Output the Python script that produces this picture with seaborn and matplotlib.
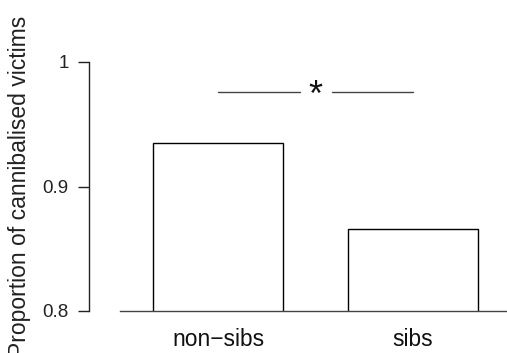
import matplotlib
matplotlib.use("Agg")
import matplotlib.pyplot as plt
import seaborn as sns
import pandas as pd

categories = ["non\u2212sibs", "sibs"]
proportions = [0.935, 0.866]
yticks = [0.8, 0.9, 1.0]
ytick_labels = ["0.8", "0.9", "1"]

sns.set_theme(style="white")
plt.rcParams["font.family"] = ["Liberation Sans", "DejaVu Sans"]

W, H = 507, 353
fig = plt.figure(figsize=(W / 100, H / 100), dpi=100)
# axes from x=120 to 507 px, y from 311 (0.8) up to 20 px
left, right, bottom, top = 120, 507, 311, 20
ax = fig.add_axes([left / W, 1 - bottom / H, (right - left) / W, (bottom - top) / H])

df = pd.DataFrame({"group": categories, "prop": proportions})
sns.barplot(data=df, x="group", y="prop", ax=ax, color="white",
            edgecolor="black", linewidth=1.0, width=0.667, saturation=1)

ax.set_xlim(-0.503, 1.482)
ax.set_ylim(0.8, 0.8 + (bottom - top) / 1245)

for s in ["top", "right"]:
    ax.spines[s].set_visible(False)
ax.spines["bottom"].set_color("#444444")
ax.spines["bottom"].set_linewidth(1.0)
ax.spines["left"].set_position(("outward", 31 * 0.72))
ax.spines["left"].set_bounds(0.8, 1.0)
ax.spines["left"].set_color("#222222")
ax.spines["left"].set_linewidth(1.0)

ax.set_yticks(yticks)
ax.set_yticklabels(ytick_labels, fontsize=13.5, color="#222222")
ax.tick_params(axis="y", left=True, length=8, width=1.0, color="#222222", pad=6.5)
ax.tick_params(axis="x", bottom=False, labelsize=16.4, pad=6, labelcolor="#111111")
ax.set_xlabel("")
ax.set_ylabel("")

# significance marker
sig_y = 0.976
ax.plot([0.0, 0.42], [sig_y, sig_y], color="#444444", lw=1.0, clip_on=False)
ax.plot([0.585, 1.0], [sig_y, sig_y], color="#444444", lw=1.0, clip_on=False)
ax.text(0.5, sig_y - 0.004, "*", ha="center", va="center", fontsize=26, color="#111111")

fig.text(20 / W, 1 - 186 / H, "Proportion of cannibalised victims", rotation=90,
         ha="center", va="center", fontsize=16.5, color="#222222")

fig.savefig("out.png", dpi=100, facecolor="white")
